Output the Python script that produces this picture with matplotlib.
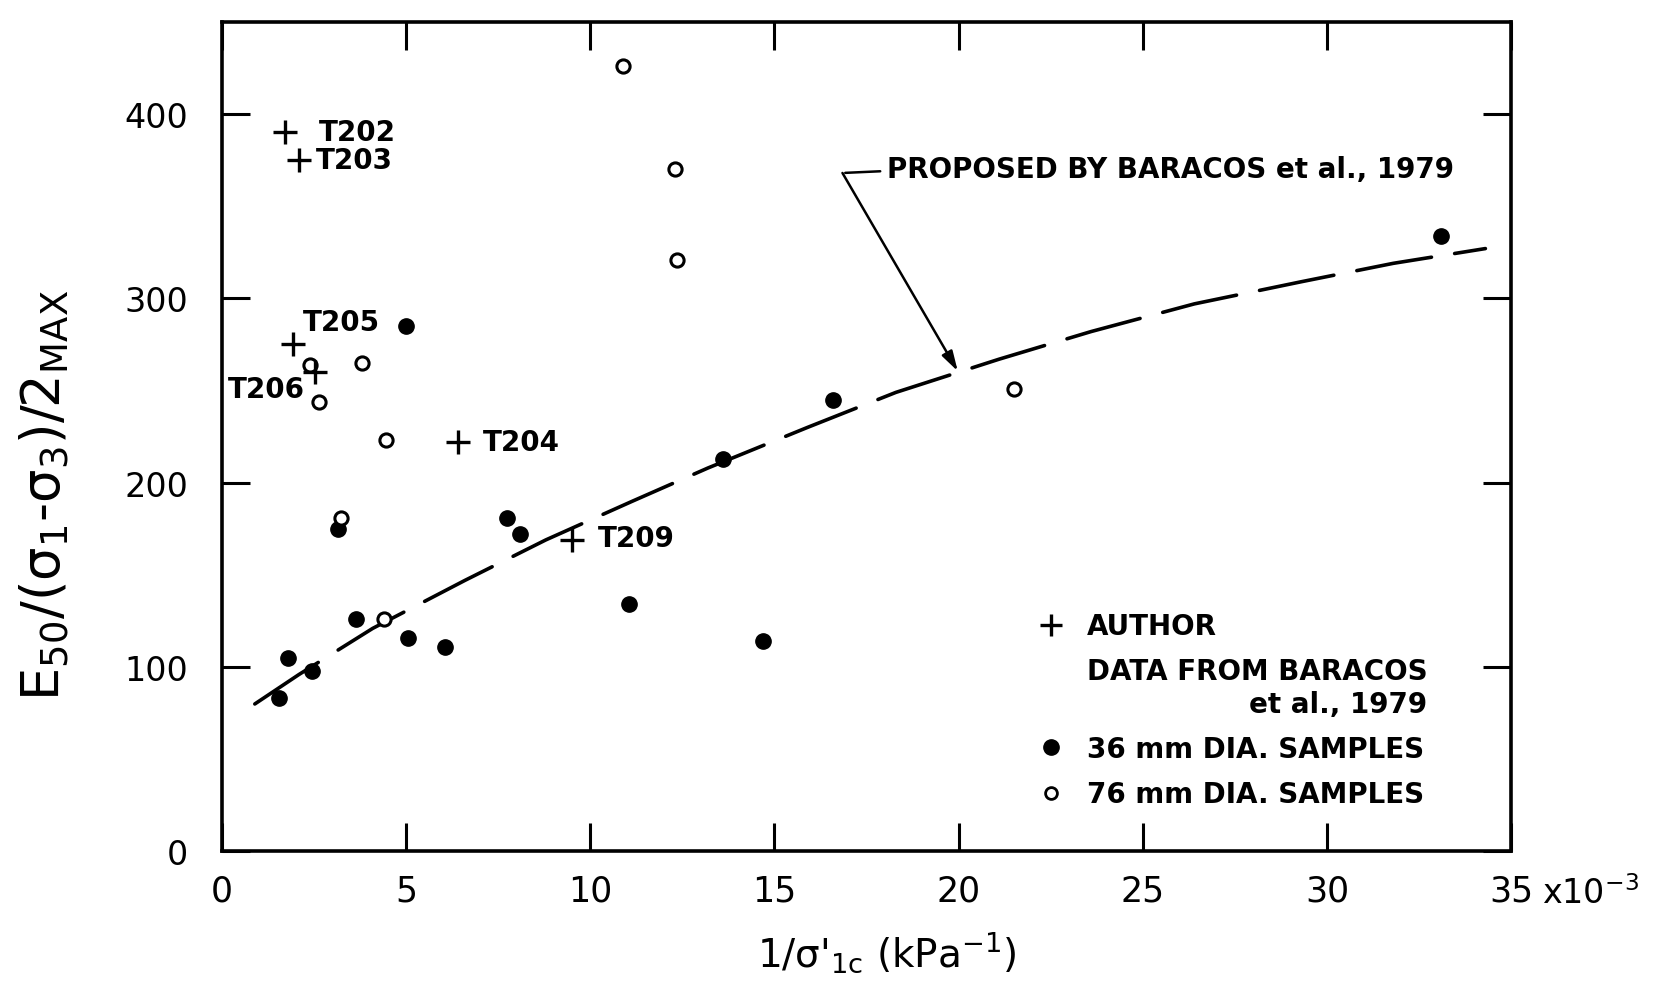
import matplotlib

matplotlib.use("Agg")
import matplotlib.pyplot as plt
from matplotlib.lines import Line2D

# author's tests (+)
author_x = [1.73, 2.10, 1.95, 2.54, 6.42, 9.52]
author_y = [390, 375, 275, 260, 222, 169]
author_names = ["T202", "T203", "T205", "T206", "T204", "T209"]

# Baracos et al. 1979, 36 mm samples (filled)
small_x = [1.55, 1.8, 2.45, 3.15, 3.65, 5.0, 5.05, 6.05, 7.75, 8.1, 11.05, 13.6, 14.7, 16.6, 33.1]
small_y = [83, 105, 98, 175, 126, 285, 116, 111, 181, 172, 134, 213, 114, 245, 334]

# Baracos et al. 1979, 76 mm samples (open)
large_x = [10.9, 12.3, 12.35, 3.8, 2.4, 2.65, 4.45, 3.25, 4.4, 21.5]
large_y = [426, 370, 321, 265, 264, 244, 223, 181, 126, 251]

# relation proposed by Baracos et al. (dashed)
curve_x = [0.9, 2.1, 4.1, 6.6, 8.8, 11.15, 13.2, 15.9, 18.3, 21.1, 23.6, 26.4, 29.3, 31.8, 34.3]
curve_y = [80, 96, 121, 147, 169, 190, 208, 230, 249, 267, 282, 297, 309, 319, 327]

# where the author labels sit, in data units
label_pos = {
    "T202": (2.65, 390),
    "T203": (2.55, 375),
    "T205": (2.2, 287),
    "T206": (2.25, 251),
    "T204": (7.1, 222),
    "T209": (10.2, 170),
}

x_ticks = [0, 5, 10, 15, 20, 25, 30, 35]
y_ticks = [0, 100, 200, 300, 400]

plt.rcParams["font.family"] = "DejaVu Sans"
plt.rcParams["mathtext.fontset"] = "dejavusans"

fig = plt.figure(figsize=(16.59, 9.87), dpi=100)
ax = fig.add_axes([0.1336, 0.1363, 0.7773, 0.8406])

ax.plot(curve_x, curve_y, color="black", linewidth=2.6, dashes=(21, 6.5), dash_capstyle="round")
ax.plot(small_x, small_y, linestyle="none", marker="o", markersize=11, color="black")
ax.plot(large_x, large_y, linestyle="none", marker="o", markersize=9.5, markerfacecolor="white",
        markeredgecolor="black", markeredgewidth=2.2)
ax.plot(author_x, author_y, linestyle="none", marker="+", markersize=17, markeredgewidth=2.4,
        color="black")

for name in author_names:
    lx, ly = label_pos[name]
    ha = "right" if name == "T206" else "left"
    ax.text(lx, ly, name, fontsize=20, fontweight="bold", ha=ha, va="center")

# leader line to the dashed curve
ax.annotate("", xy=(17.95, 369), xytext=(16.85, 368),
            arrowprops=dict(arrowstyle="-", color="black", linewidth=1.8))
ax.annotate("", xy=(19.98, 260.5), xytext=(16.85, 368),
            arrowprops=dict(arrowstyle="-|>,head_length=1.2,head_width=0.35", color="black",
                            linewidth=1.8, shrinkA=0, shrinkB=0))
ax.text(18.05, 370, "PROPOSED BY BARACOS et al., 1979", fontsize=20, fontweight="bold",
        ha="left", va="center")

handles = [
    Line2D([], [], linestyle="none", marker="+", markersize=16, markeredgewidth=2.4, color="black"),
    Line2D([], [], linestyle="none"),
    Line2D([], [], linestyle="none", marker="o", markersize=11, color="black"),
    Line2D([], [], linestyle="none", marker="o", markersize=8.5, markerfacecolor="white",
           markeredgecolor="black", markeredgewidth=2.0),
]
labels = ["AUTHOR", "DATA FROM BARACOS\net al., 1979", "36 mm DIA. SAMPLES", "76 mm DIA. SAMPLES"]
leg = ax.legend(handles, labels, loc="lower left", bbox_to_anchor=(0.632, 0.052), frameon=False,
                prop=dict(size=20, weight="bold"), handlelength=1.0, handletextpad=0.8,
                labelspacing=0.62, borderaxespad=0, borderpad=0)
leg.get_texts()[1].set_multialignment("right")

ax.set_xlim(0, 35)
ax.set_ylim(0, 450)
ax.set_xticks(x_ticks)
ax.set_yticks(y_ticks)
ax.tick_params(direction="in", length=20, width=2.2, top=True, right=True)
ax.tick_params(axis="x", pad=16, labelsize=25)
ax.tick_params(axis="y", pad=24, labelsize=24)
for s in ax.spines.values():
    s.set_linewidth(2.6)

ax.annotate("x10$^{-3}$", xy=(35, 0), xycoords=("data", "axes fraction"), xytext=(22, -17),
            textcoords="offset points", fontsize=24, ha="left", va="top")

ax.set_xlabel("1/σ$'_{\\mathrm{1c}}$ (kPa$^{-1}$)", fontsize=28)
ax.set_ylabel("E$_{50}$/(σ$_1$-σ$_3$)/2$_{\\mathrm{MAX}}$", fontsize=38)
ax.xaxis.set_label_coords(0.516, -0.094)
ax.yaxis.set_label_coords(-0.116, 0.43)

fig.savefig("out.png", dpi=100)
